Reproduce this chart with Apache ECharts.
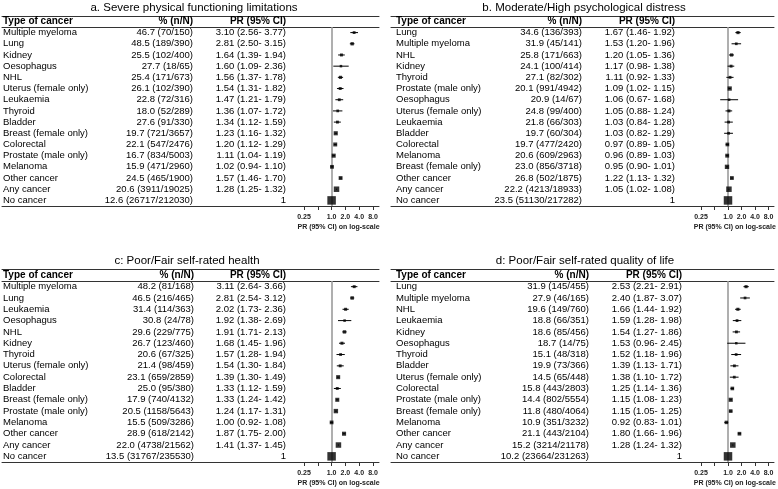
<!DOCTYPE html>
<html><head><meta charset="utf-8">
<script src="https://cdn.jsdelivr.net/npm/echarts@6/dist/echarts.min.js"></script>
<style>html,body{margin:0;padding:0;background:#fff}#c{width:778px;height:489px}</style>
</head><body><div id="c"></div>
<script>
// ---------- data ----------
const tickValues = [0.25, 0.5, 1, 2, 4, 8];
const tickLabels = ['0.25', '', '1.0', '2.0', '4.0', '8.0'];
const axisTitle = 'PR (95% CI) on log-scale';
const headers = ['Type of cancer', '% (n/N)', 'PR (95% CI)'];

const titleA = 'a. Severe physical functioning limitations';
const catsA = ['Multiple myeloma','Lung','Kidney','Oesophagus','NHL','Uterus (female only)','Leukaemia','Thyroid','Bladder','Breast (female only)','Colorectal','Prostate (male only)','Melanoma','Other cancer','Any cancer','No cancer'];
const pctA = ['46.7 (70/150)','48.5 (189/390)','25.5 (102/400)','27.7 (18/65)','25.4 (171/673)','26.1 (102/390)','22.8 (72/316)','18.0 (52/289)','27.6 (91/330)','19.7 (721/3657)','22.1 (547/2476)','16.7 (834/5003)','15.9 (471/2960)','24.5 (465/1900)','20.6 (3911/19025)','12.6 (26717/212030)'];
const prA = [3.10,2.81,1.64,1.60,1.56,1.54,1.47,1.36,1.34,1.23,1.20,1.11,1.02,1.57,1.28,1];
const loA = [2.56,2.50,1.39,1.09,1.37,1.31,1.21,1.07,1.12,1.16,1.12,1.04,0.94,1.46,1.25,null];
const hiA = [3.77,3.15,1.94,2.36,1.78,1.82,1.79,1.72,1.59,1.32,1.29,1.19,1.10,1.70,1.32,null];

const titleB = 'b. Moderate/High psychological distress';
const catsB = ['Lung','Multiple myeloma','NHL','Kidney','Thyroid','Prostate (male only)','Oesophagus','Uterus (female only)','Leukaemia','Bladder','Colorectal','Melanoma','Breast (female only)','Other cancer','Any cancer','No cancer'];
const pctB = ['34.6 (136/393)','31.9 (45/141)','25.8 (171/663)','24.1 (100/414)','27.1 (82/302)','20.1 (991/4942)','20.9 (14/67)','24.8 (99/400)','21.8 (66/303)','19.7 (60/304)','19.7 (477/2420)','20.6 (609/2963)','23.0 (856/3718)','26.8 (502/1875)','22.2 (4213/18933)','23.5 (51130/217282)'];
const prB = [1.67,1.53,1.20,1.17,1.11,1.09,1.06,1.05,1.03,1.03,0.97,0.96,0.95,1.22,1.05,1];
const loB = [1.46,1.20,1.05,0.98,0.92,1.02,0.67,0.88,0.84,0.82,0.89,0.89,0.90,1.13,1.02,null];
const hiB = [1.92,1.96,1.36,1.38,1.33,1.15,1.68,1.24,1.28,1.29,1.05,1.03,1.01,1.32,1.08,null];

const titleC = 'c: Poor/Fair self-rated health';
const catsC = ['Multiple myeloma','Lung','Leukaemia','Oesophagus','NHL','Kidney','Thyroid','Uterus (female only)','Colorectal','Bladder','Breast (female only)','Prostate (male only)','Melanoma','Other cancer','Any cancer','No cancer'];
const pctC = ['48.2 (81/168)','46.5 (216/465)','31.4 (114/363)','30.8 (24/78)','29.6 (229/775)','26.7 (123/460)','20.6 (67/325)','21.4 (98/459)','23.1 (659/2859)','25.0 (95/380)','17.9 (740/4132)','20.5 (1158/5643)','15.5 (509/3286)','28.9 (618/2142)','22.0 (4738/21562)','13.5 (31767/235530)'];
const prC = [3.11,2.81,2.02,1.92,1.91,1.68,1.57,1.54,1.39,1.33,1.33,1.24,1.00,1.87,1.41,1];
const loC = [2.64,2.54,1.73,1.38,1.71,1.45,1.28,1.30,1.30,1.12,1.24,1.17,0.92,1.75,1.37,null];
const hiC = [3.66,3.12,2.36,2.69,2.13,1.96,1.94,1.84,1.49,1.59,1.42,1.31,1.08,2.00,1.45,null];

const titleD = 'd: Poor/Fair self-rated quality of life';
const catsD = ['Lung','Multiple myeloma','NHL','Leukaemia','Kidney','Oesophagus','Thyroid','Bladder','Uterus (female only)','Colorectal','Prostate (male only)','Breast (female only)','Melanoma','Other cancer','Any cancer','No cancer'];
const pctD = ['31.9 (145/455)','27.9 (46/165)','19.6 (149/760)','18.8 (66/351)','18.6 (85/456)','18.7 (14/75)','15.1 (48/318)','19.9 (73/366)','14.5 (65/448)','15.8 (443/2803)','14.4 (802/5554)','11.8 (480/4064)','10.9 (351/3232)','21.1 (443/2104)','15.2 (3214/21178)','10.2 (23664/231263)'];
const prD = [2.53,2.40,1.66,1.59,1.54,1.53,1.52,1.39,1.38,1.25,1.15,1.15,0.92,1.80,1.28,1];
const loD = [2.21,1.87,1.44,1.28,1.27,0.96,1.18,1.13,1.10,1.14,1.08,1.05,0.83,1.66,1.24,null];
const hiD = [2.91,3.07,1.92,1.98,1.86,2.45,1.96,1.71,1.72,1.36,1.23,1.25,1.01,1.96,1.32,null];

// ---------- layout ----------
const layouts = [
  {x0:1, x1:379, textL:2, pctR:192, prR:285, fx0:304, fx1:373, top:16, head:27, bottom:206, tx:194, ty:2},
  {x0:391, x1:774, textL:396, pctR:582, prR:675, fx0:701, fx1:768.5, top:16, head:27, bottom:206, tx:584, ty:2},
  {x0:1, x1:379, textL:2, pctR:193, prR:285, fx0:304, fx1:373, top:269, head:281, bottom:462, tx:187, ty:255},
  {x0:391, x1:774, textL:396, pctR:589, prR:682, fx0:701, fx1:768.5, top:269, head:281, bottom:462, tx:585, ty:255}
];
const panels = [
  {title:titleA, cats:catsA, pct:pctA, pr:prA, lo:loA, hi:hiA},
  {title:titleB, cats:catsB, pct:pctB, pr:prB, lo:loB, hi:hiB},
  {title:titleC, cats:catsC, pct:pctC, pr:prC, lo:loC, hi:hiC},
  {title:titleD, cats:catsD, pct:pctD, pr:prD, lo:loD, hi:hiD}
];

const FONT = '"Liberation Sans", Arial, Helvetica, sans-serif';
const fmtPR = (p, l, h) => l == null ? String(p) : p.toFixed(2) + ' (' + l.toFixed(2) + '- ' + h.toFixed(2) + ')';
const off = {show:false};
const rule = {show:true, lineStyle:{color:'#333', width:1}};

const option = {animation:false, backgroundColor:'#fff', title:[], grid:[], xAxis:[], yAxis:[], series:[]};

panels.forEach((P, i) => {
  const L = layouts[i];
  const g = option.grid.length, xa = option.xAxis.length, ya = option.yAxis.length;
  const W = L.x1 - L.x0;
  const w1 = 95, w2 = L.pctR - L.textL - w1, w3 = L.prR - L.pctR;
  const prText = P.pr.map((p, k) => fmtPR(p, P.lo[k], P.hi[k]));

  option.title.push({text:P.title, left:L.tx, top:L.ty, textAlign:'center', padding:0,
    textStyle:{fontFamily:FONT, fontSize:11.5, fontWeight:'normal', color:'#000'}});

  option.grid.push({left:L.x0, top:L.top, width:W, height:L.head - L.top});
  option.grid.push({left:L.x0, top:L.head, width:W, height:L.bottom - L.head});
  option.grid.push({left:L.fx0, top:L.head, width:L.fx1 - L.fx0, height:L.bottom - L.head});

  const plainX = (gi, pos) => ({gridIndex:gi, type:'value', position:pos, min:0, max:1,
    axisLine:rule, axisTick:off, axisLabel:off, splitLine:off});
  option.xAxis.push(plainX(g, 'top'));
  option.xAxis.push(plainX(g + 1, 'top'));
  option.xAxis.push(plainX(g + 1, 'bottom'));
  option.xAxis.push({gridIndex:g + 2, type:'log', logBase:2, min:0.25, max:8, interval:1, position:'bottom',
    axisLine:{show:false}, splitLine:off,
    axisTick:{show:true, length:4, lineStyle:{color:'#333', width:1}},
    axisLabel:{show:true, margin:8, fontFamily:FONT, fontSize:7, fontWeight:'bold', color:'#222',
      formatter:(v) => { const k = tickValues.findIndex(t => Math.abs(t - v) < 1e-6); return k >= 0 ? tickLabels[k] : ''; }},
    name:axisTitle, nameLocation:'middle', nameGap:18,
    nameTextStyle:{fontFamily:FONT, fontSize:7, fontWeight:'bold', color:'#222'}});

  const rich = (bold, size) => ({
    n:{width:w1, align:'left', fontFamily:FONT, fontSize:size, fontWeight:bold, color:'#000'},
    p:{width:w2, align:'right', fontFamily:FONT, fontSize:size, fontWeight:bold, color:'#000'},
    r:{width:w3, align:'right', fontFamily:FONT, fontSize:size, fontWeight:bold, color:'#000'}
  });
  option.yAxis.push({gridIndex:g, type:'category', data:['h'], axisLine:off, axisTick:off, splitLine:off,
    axisLabel:{inside:true, margin:L.textL - L.x0, interval:0, rich:rich('bold', 10),
      formatter:() => '{n|' + headers[0] + '}{p|' + headers[1] + '}{r|' + headers[2] + '}'}});
  option.yAxis.push({gridIndex:g + 1, type:'category', inverse:true, data:P.cats, axisLine:off, axisTick:off, splitLine:off,
    axisLabel:{inside:true, margin:L.textL - L.x0, interval:0, rich:rich('normal', 9.5),
      formatter:(v, k) => '{n|' + v + '}{p|' + P.pct[k] + '}{r|' + prText[k] + '}'}});
  option.yAxis.push({gridIndex:g + 2, type:'category', inverse:true, data:P.cats, show:false});

  const rows = P.pr.map((p, k) => [p, k, P.lo[k], P.hi[k]]);
  // reference line at PR = 1 (drawn beneath the marks)
  option.series.push({type:'scatter', xAxisIndex:xa + 3, yAxisIndex:ya + 2, z:1, symbolSize:0, silent:true,
    data:rows.map(r => [r[0], r[1]]),
    markLine:{silent:true, z:1, symbol:'none', label:{show:false}, animation:false,
      lineStyle:{color:'#9b9b9b', width:1.6, type:'solid'}, data:[{xAxis:1}]}});
  // confidence intervals
  option.series.push({type:'custom', xAxisIndex:xa + 3, yAxisIndex:ya + 2, z:4, silent:true,
    data:rows.filter(r => r[2] != null), encode:{x:[0, 2, 3], y:1},
    renderItem:(params, api) => {
      const y = api.value(1);
      const a = api.coord([api.value(2), y]);
      const b = api.coord([api.value(3), y]);
      return {type:'line', shape:{x1:a[0], y1:a[1], x2:b[0], y2:b[1]}, style:{stroke:'#000', lineWidth:1}};
    }});
  // point estimates
  option.series.push({type:'scatter', xAxisIndex:xa + 3, yAxisIndex:ya + 2, z:6, silent:true, symbol:'rect',
    data:rows, itemStyle:{color:'#000'},
    symbolSize:(v) => v[2] == null ? 8.5 : Math.max(2.5, Math.min(5.5, 2.2 + 0.25 / Math.log(v[3] / v[2])))});
});

const chart = echarts.init(document.getElementById('c'), null, {renderer:'canvas'});
chart.setOption(option);
</script>
</body></html>
